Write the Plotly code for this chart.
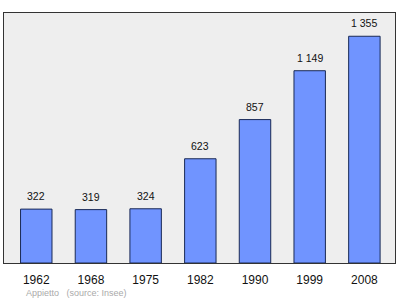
import plotly.graph_objects as go

years = ["1962", "1968", "1975", "1982", "1990", "1999", "2008"]
population = [322, 319, 324, 623, 857, 1149, 1355]
value_labels = ["322", "319", "324", "623", "857", "1 149", "1 355"]
footnote = "Appietto   (source: Insee)"

fig = go.Figure()
fig.add_trace(go.Bar(
    x=years, y=population,
    width=0.575,
    marker=dict(color="#7094FF", line=dict(color="#1a2a55", width=1)),
    hoverinfo="skip",
))

for i, (v, lab) in enumerate(zip(population, value_labels)):
    fig.add_annotation(x=i, y=v, text=lab, showarrow=False,
                       yanchor="bottom", yshift=5,
                       font=dict(family="Liberation Sans, Arial", size=10.5, color="#111"))

fig.add_annotation(xref="paper", yref="paper", x=0.051, y=-0.12,
                   xanchor="left", yanchor="middle", text=footnote, showarrow=False,
                   font=dict(family="Liberation Sans, Arial", size=9, color="#aaaaaa"))

fig.update_layout(
    width=400, height=299,
    margin=dict(l=4, r=5, t=13, b=36),
    paper_bgcolor="white",
    plot_bgcolor="#EEEEEE",
    showlegend=False,
    xaxis=dict(type="category", range=[-0.59, 6.56], showline=True, mirror=True,
               linecolor="#333", linewidth=1, ticks="outside", ticklen=6,
               tickcolor="rgba(0,0,0,0)", showgrid=False,
               tickfont=dict(family="Liberation Sans, Arial", size=12, color="#111")),
    yaxis=dict(range=[0, 1494], showline=True, mirror=True, linecolor="#333",
               linewidth=1, showticklabels=False, ticks="", showgrid=False, zeroline=False),
)

fig.write_html("out.html")
